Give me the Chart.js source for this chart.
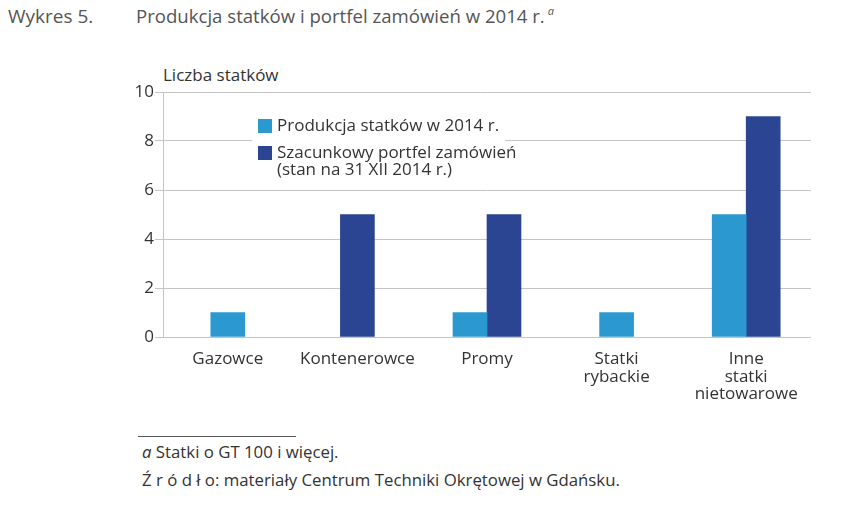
<!DOCTYPE html>
<html lang="pl">
<head>
<meta charset="utf-8">
<script src="https://cdn.jsdelivr.net/npm/chart.js@4.4.1/dist/chart.umd.min.js"></script>
<style>
  html, body { margin: 0; padding: 0; background: #fff; }
  body { width: 850px; height: 508px; position: relative; overflow: hidden; font-family: "Open Sans", sans-serif; color: #444; }
  .abs { position: absolute; white-space: nowrap; }
  #t1 { left: 8px; top: 3px; font-size: 19px; color: #555; }
  #t2 { left: 136px; top: 3px; font-size: 18.6px; color: #555; }
  #t2 sup { font-style: italic; font-size: 11px; vertical-align: 8px; margin-left: 3px; }
  #ylab { left: 163px; top: 63px; font-size: 17px; color: #333; }
  #wrap { left: 100px; top: 80px; width: 730px; height: 320px; }
  #rule { left: 138px; top: 436px; width: 158px; height: 1px; background: #555; }
  #f1 { left: 142px; top: 440px; font-size: 16.8px; color: #333; }
  #f2 { left: 142px; top: 468px; font-size: 16.8px; color: #333; }
</style>
</head>
<body>
<div class="abs" id="t1">Wykres 5.</div>
<div class="abs" id="t2">Produkcja statków i portfel zamówień w 2014 r.<sup>a</sup></div>
<div class="abs" id="ylab">Liczba statków</div>
<div class="abs" id="wrap"><canvas id="c"></canvas></div>
<div class="abs" id="rule"></div>
<div class="abs" id="f1"><i>a</i> Statki o GT 100 i więcej.</div>
<div class="abs" id="f2">Ź r ó d ł o: materiały Centrum Techniki Okrętowej w Gdańsku.</div>
<script>
const categories = ['Gazowce', 'Kontenerowce', 'Promy', ['Statki', 'rybackie'], ['Inne', 'statki', 'nietowarowe']];
const production2014 = [1, null, 1, 1, 5];
const orderBook = [null, 5, 5, null, 9];
const seriesNames = ['Produkcja statków w 2014 r.', ['Szacunkowy portfel zamówień', '(stan na 31 XII 2014 r.)']];
const yTicks = [0, 2, 4, 6, 8, 10];

const colors = ['#2b99cf', '#2b4592'];
const fontFamily = '"Open Sans", sans-serif';

const legendPlugin = {
  id: 'inlineLegend',
  beforeDatasetsDraw(chart) {
    const { ctx, chartArea } = chart;
    const x = chartArea.left + 95;
    const y = chartArea.top + 27;
    ctx.save();
    ctx.fillStyle = '#fff';
    ctx.fillRect(x - 6, y - 8, 253, 72);
    ctx.font = '17px ' + fontFamily;
    ctx.textBaseline = 'middle';
    ctx.textAlign = 'left';
    let yy = y;
    seriesNames.forEach((name, i) => {
      ctx.fillStyle = colors[i];
      ctx.fillRect(x, yy, 14, 14);
      ctx.fillStyle = '#333';
      const lines = Array.isArray(name) ? name : [name];
      lines.forEach((ln, j) => ctx.fillText(ln, x + 19, yy + 7 + j * 17));
      yy += 27;
    });
    ctx.restore();
  }
};

new Chart(document.getElementById('c'), {
  type: 'bar',
  data: {
    labels: categories,
    datasets: [
      { label: 'Produkcja statków w 2014 r.', data: production2014, backgroundColor: colors[0] },
      { label: 'Szacunkowy portfel zamówień (stan na 31 XII 2014 r.)', data: orderBook, backgroundColor: colors[1] }
    ]
  },
  options: {
    responsive: true,
    maintainAspectRatio: false,
    animation: false,
    skipNull: true,
    barThickness: 34,
    layout: { padding: { top: 12, right: 19, left: 0, bottom: 0 } },
    plugins: { legend: { display: false }, tooltip: { enabled: false } },
    scales: {
      x: {
        grid: { display: false },
        border: { display: false },
        ticks: { color: '#333', font: { family: fontFamily, size: 17, lineHeight: 1.05 }, padding: 5, maxRotation: 0, autoSkip: false },
        afterFit(s) { s.height = 63; }
      },
      y: {
        min: 0, max: 10,
        afterBuildTicks(s) { s.ticks = yTicks.map(v => ({ value: v })); },
        grid: { color: '#c4c4c4', lineWidth: 1, drawTicks: true, tickLength: 8 },
        border: { display: true, color: '#c4c4c4' },
        ticks: { color: '#333', font: { family: fontFamily, size: 17 }, padding: 1 },
        afterFit(s) { s.width = 63; }
      }
    }
  },
  plugins: [legendPlugin]
});
</script>
</body>
</html>
